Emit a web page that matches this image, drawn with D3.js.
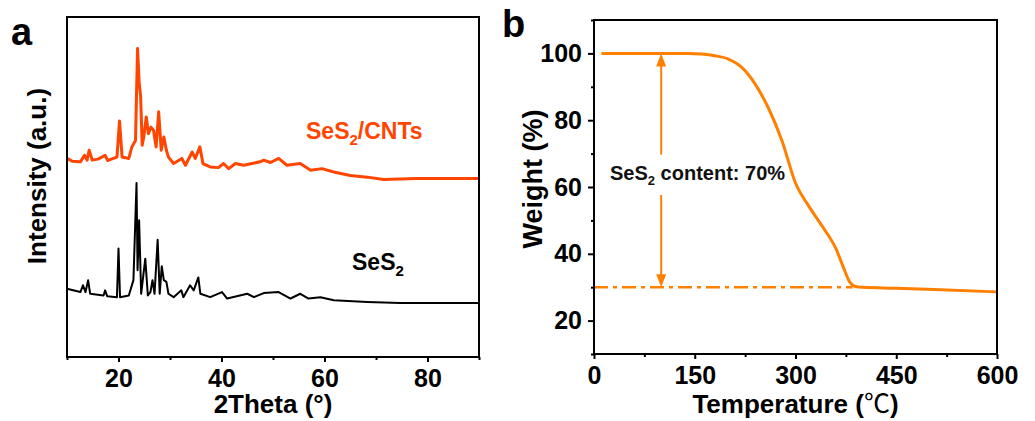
<!DOCTYPE html>
<meta charset="utf-8">
<html>
<head>
<script src="https://cdn.jsdelivr.net/npm/d3@7"></script>
<style>
  body { margin: 0; background: #fff; }
  svg { font-family: Arial, "Liberation Sans", sans-serif; font-weight: bold; }
</style>
</head>
<body>
<div id="chart"></div>
<script>

// ---- panel a : XRD ----
var cntTheta = [10, 11, 12.6, 13.4, 13.9, 14.3, 14.9, 16, 17.4, 17.9, 19, 19.7, 20.2, 20.7, 22, 22.6, 23.3, 23.7, 24.0, 24.3, 24.6, 24.9, 25.4, 25.8, 26.3, 26.8, 27.3, 27.8, 28.3, 28.8, 29.3, 29.7, 30.7, 32.3, 33, 34.3, 34.9, 35.8, 36.4, 37.8, 39.4, 40.4, 41.4, 42.7, 44.3, 45.9, 47.5, 48.2, 49.5, 51.1, 52.7, 55.3, 57.3, 59.5, 61.8, 65, 68.3, 71.5, 78, 84.5, 90];
var cntInt   = [58.4, 57.6, 57.4, 59.3, 57.9, 60.8, 57.9, 58.2, 59.3, 57.8, 58.4, 58.8, 69.4, 58.8, 58.4, 61.8, 63.7, 90.7, 80.9, 76.5, 62.3, 64.7, 70.6, 65.7, 67.6, 66.7, 61.8, 72.1, 60.8, 64.7, 60.8, 58.8, 56.9, 58.4, 56.4, 60.3, 58.4, 61.8, 56.9, 55.9, 55.7, 56.9, 55.4, 56.9, 56.4, 56.9, 57.4, 57.9, 57.2, 58.4, 56.4, 56.9, 54.9, 55.4, 54.4, 53.4, 52.9, 52.2, 52.5, 52.5, 52.5];

var sesTheta = [10, 12.6, 13.1, 13.6, 14.1, 14.5, 17.1, 17.4, 17.8, 19.7, 20.0, 20.3, 22, 22.9, 23.5, 23.7, 24.0, 24.4, 25.2, 25.7, 26.2, 26.6, 27, 27.6, 28, 28.4, 28.8, 29.3, 29.7, 30.7, 32.2, 32.6, 33.9, 34.6, 35.5, 35.9, 37.8, 40.1, 41.1, 45, 46.3, 48.2, 51.1, 53.4, 55.3, 56.9, 59.2, 61.8, 68.3, 74.7, 81.2, 90];
var sesInt   = [20.1, 19.1, 21.1, 19.1, 22.6, 18.6, 18.1, 19.6, 17.9, 17.6, 31.9, 17.6, 18.1, 22.6, 51.2, 25.5, 40.2, 18.6, 28.9, 18.1, 19.1, 22.6, 18.6, 34.5, 18.6, 26.7, 22.6, 22.1, 18.6, 17.6, 19.6, 17.6, 21.1, 19.6, 23.4, 18.6, 17.6, 19.1, 17.2, 18.6, 17.6, 18.8, 19.1, 17.2, 18.6, 17.2, 17.6, 16.7, 16.2, 15.9, 15.9, 15.9];

var xrdMajor = [20, 40, 60, 80];
var xrdMinor = [10, 30, 50, 70, 90];

// ---- panel b : TGA ----
var tgaTemp   = [11, 140, 160, 180, 200, 220, 240, 260, 280, 300, 320, 340, 360, 372, 380, 388, 400, 450, 506, 600];
var tgaWeight = [100, 100, 99.8, 99.3, 98.3, 95.8, 90.8, 83.5, 73.8, 61.2, 54.2, 48.2, 41.6, 35.6, 31.8, 30.3, 29.95, 29.7, 29.3, 28.6];
var residue = 30;
var arrowT = 100;

var tgaMajorX = [0, 150, 300, 450, 600];
var tgaMinorX = [75, 225, 375, 525];
var tgaMajorY = [20, 40, 60, 80, 100];
var tgaMinorY = [10, 30, 50, 70, 90, 110];

var svg = d3.select("#chart").append("svg")
  .attr("width", 1035)
  .attr("height", 421);

// ===================== panel a =====================
var ax = {left: 67, right: 479, top: 17, bottom: 357};
var xA = d3.scaleLinear().domain([10, 90]).range([ax.left, ax.right]);
var yA = d3.scaleLinear().domain([0, 100]).range([ax.bottom, ax.top]);

var gA = svg.append("g");

function styleAxis(g) {
  g.select(".domain").remove();
  g.selectAll("line").attr("stroke-width", 2);
  g.selectAll("text").attr("font-size", 25).attr("font-weight", "bold").attr("fill", "#000")
    .attr("font-family", "Arial, 'Liberation Sans', sans-serif");
}

gA.append("g")
  .attr("transform", "translate(0," + ax.bottom + ")")
  .call(d3.axisBottom(xA).tickValues(xrdMinor).tickSize(3).tickFormat(""))
  .call(styleAxis);

gA.append("g")
  .attr("transform", "translate(0," + ax.bottom + ")")
  .call(d3.axisBottom(xA).tickValues(xrdMajor).tickSize(5).tickPadding(7))
  .call(styleAxis);

var lineA = d3.line()
  .x(function(d) { return xA(d[0]); })
  .y(function(d) { return yA(d[1]); });

gA.append("path")
  .datum(d3.zip(sesTheta, sesInt))
  .attr("fill", "none")
  .attr("stroke", "#000")
  .attr("stroke-width", 2)
  .attr("stroke-linejoin", "round")
  .attr("d", lineA);

gA.append("path")
  .datum(d3.zip(cntTheta, cntInt))
  .attr("fill", "none")
  .attr("stroke", "#ff4500")
  .attr("stroke-width", 3)
  .attr("stroke-linejoin", "round")
  .attr("d", lineA);

gA.append("rect")
  .attr("x", ax.left).attr("y", ax.top)
  .attr("width", ax.right - ax.left).attr("height", ax.bottom - ax.top)
  .attr("fill", "none").attr("stroke", "#000").attr("stroke-width", 2);

// labels on panel a
var t1 = gA.append("text").attr("x", 306).attr("y", 139).attr("font-size", 23).attr("fill", "#ff4500");
t1.append("tspan").text("SeS");
t1.append("tspan").attr("font-size", 15).attr("dy", 6).text("2");
t1.append("tspan").attr("dy", -6).text("/CNTs");

var t2 = gA.append("text").attr("x", 352).attr("y", 270).attr("font-size", 23).attr("fill", "#000");
t2.append("tspan").text("SeS");
t2.append("tspan").attr("font-size", 15).attr("dy", 6).text("2");

gA.append("text")
  .attr("x", (ax.left + ax.right) / 2).attr("y", 413)
  .attr("text-anchor", "middle").attr("font-size", 26)
  .text("2Theta (°)");

gA.append("text")
  .attr("transform", "translate(46,176) rotate(-90)")
  .attr("text-anchor", "middle").attr("font-size", 26)
  .text("Intensity (a.u.)");

gA.append("text").attr("x", 11).attr("y", 45).attr("font-size", 38).text("a");

// ===================== panel b =====================
var bx = {left: 594, right: 997, top: 20, bottom: 354};
var xB = d3.scaleLinear().domain([0, 600]).range([bx.left, bx.right]);
var yB = d3.scaleLinear().domain([10, 110]).range([bx.bottom, bx.top]);
var orange = "#ff8000";

var gB = svg.append("g");

gB.append("g")
  .attr("transform", "translate(0," + bx.bottom + ")")
  .call(d3.axisBottom(xB).tickValues(tgaMinorX).tickSize(3).tickFormat(""))
  .call(styleAxis);
gB.append("g")
  .attr("transform", "translate(0," + bx.bottom + ")")
  .call(d3.axisBottom(xB).tickValues(tgaMajorX).tickSize(5).tickPadding(7))
  .call(styleAxis);
gB.append("g")
  .attr("transform", "translate(" + bx.left + ",0)")
  .call(d3.axisLeft(yB).tickValues(tgaMinorY).tickSize(3).tickFormat(""))
  .call(styleAxis);
gB.append("g")
  .attr("transform", "translate(" + bx.left + ",0)")
  .call(d3.axisLeft(yB).tickValues(tgaMajorY).tickSize(6).tickPadding(6))
  .call(styleAxis);

// residue dash-dot line
gB.append("line")
  .attr("x1", xB(0)).attr("x2", xB(385))
  .attr("y1", yB(residue)).attr("y2", yB(residue))
  .attr("stroke", orange).attr("stroke-width", 2.5)
  .attr("stroke-dasharray", "14,5,4,5");

gB.append("path")
  .datum(d3.zip(tgaTemp, tgaWeight))
  .attr("fill", "none")
  .attr("stroke", orange)
  .attr("stroke-width", 3)
  .attr("d", d3.line()
    .x(function(d) { return xB(d[0]); })
    .y(function(d) { return yB(d[1]); })
    .curve(d3.curveMonotoneX));

// double arrow with gap for the label
var ax0 = xB(arrowT);
gB.append("line")
  .attr("x1", ax0).attr("x2", ax0)
  .attr("y1", yB(100) + 10).attr("y2", yB(69.7))
  .attr("stroke", orange).attr("stroke-width", 2);
gB.append("line")
  .attr("x1", ax0).attr("x2", ax0)
  .attr("y1", yB(57.6)).attr("y2", yB(residue) - 10)
  .attr("stroke", orange).attr("stroke-width", 2);
gB.append("path")
  .attr("d", "M" + ax0 + "," + yB(100) + "L" + (ax0 - 5) + "," + (yB(100) + 13) + "L" + (ax0 + 5) + "," + (yB(100) + 13) + "Z")
  .attr("fill", orange);
gB.append("path")
  .attr("d", "M" + ax0 + "," + yB(residue) + "L" + (ax0 - 5) + "," + (yB(residue) - 13) + "L" + (ax0 + 5) + "," + (yB(residue) - 13) + "Z")
  .attr("fill", orange);

var t3 = gB.append("text").attr("x", 610).attr("y", 180).attr("font-size", 20).attr("fill", "#111");
t3.append("tspan").text("SeS");
t3.append("tspan").attr("font-size", 13).attr("dy", 5).text("2");
t3.append("tspan").attr("dy", -5).text(" content: 70%");

gB.append("rect")
  .attr("x", bx.left).attr("y", bx.top)
  .attr("width", bx.right - bx.left).attr("height", bx.bottom - bx.top)
  .attr("fill", "none").attr("stroke", "#000").attr("stroke-width", 2);

var tt = gB.append("text")
  .attr("x", (bx.left + bx.right) / 2).attr("y", 413)
  .attr("text-anchor", "middle").attr("font-size", 26);
tt.append("tspan").text("Temperature (");
tt.append("tspan").attr("font-family", "'Noto Sans CJK SC', 'DejaVu Sans', sans-serif").attr("font-weight", "normal").text("℃");
tt.append("tspan").text(")");

gB.append("text")
  .attr("transform", "translate(542,179) rotate(-90)")
  .attr("text-anchor", "middle").attr("font-size", 27)
  .text("Weight (%)");

gB.append("text").attr("x", 502).attr("y", 37).attr("font-size", 38).text("b");

</script>
</body>
</html>
